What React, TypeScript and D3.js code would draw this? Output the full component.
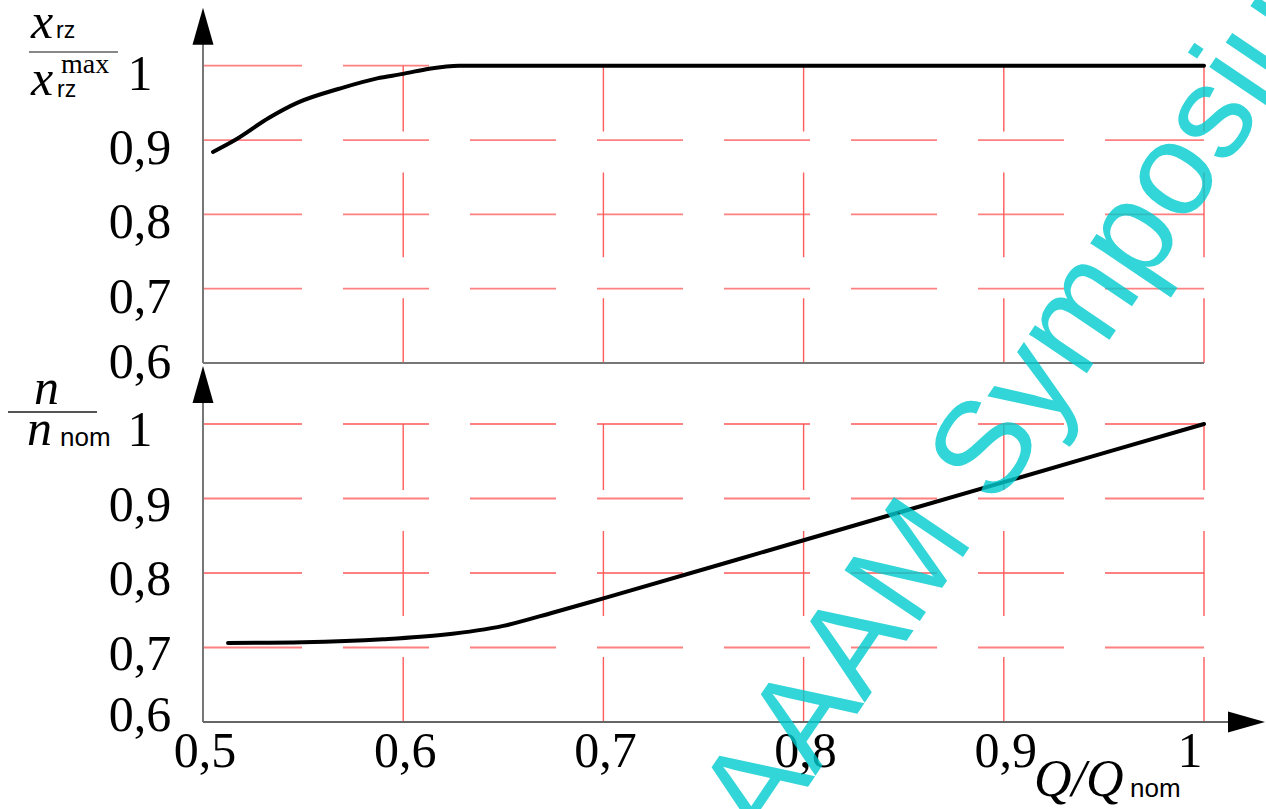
import React from "react";
import * as d3 from "d3";

// ---- data ----
const X_TICKS = [0.5, 0.6, 0.7, 0.8, 0.9, 1];
const X_TICK_LABELS = ["0,5", "0,6", "0,7", "0,8", "0,9", "1"];
const Y_TICKS = [0.6, 0.7, 0.8, 0.9, 1];
const Y_TICK_LABELS = ["0,6", "0,7", "0,8", "0,9", "1"];

// x_rz / x_rz^max vs Q/Q_nom
const XRZ_Q = [0.505, 0.516, 0.533, 0.547, 0.568, 0.587, 0.6, 0.613, 0.628, 1.0];
const XRZ_VAL = [0.884, 0.9, 0.93, 0.95, 0.969, 0.983, 0.989, 0.996, 1.0, 1.0];

// n / n_nom vs Q/Q_nom
const N_Q = [0.5125, 0.55, 0.59, 0.62, 0.65, 0.675, 0.7, 0.8, 0.9, 1.0];
const N_VAL = [0.706, 0.707, 0.711, 0.717, 0.729, 0.747, 0.766, 0.844, 0.922, 1.0];

const WATERMARK = "AAAM Symposium";

const W = 1266;
const H = 809;
const SERIF = "Liberation Serif";
const SANS = "Liberation Sans";

function T(props: { x: number; y: number; size: number; italic?: boolean; family?: string; anchor?: string; children: React.ReactNode }) {
  const { x, y, size, italic, family, anchor, children } = props;
  return (
    <text
      x={x}
      y={y}
      fontSize={size}
      fontFamily={family || SERIF}
      fontStyle={italic ? "italic" : "normal"}
      textAnchor={anchor || "start"}
      fill="#000"
    >
      {children}
    </text>
  );
}

export default function App() {
  const x = d3.scaleLinear().domain([0.5, 1]).range([203, 1204]);
  const yTop = d3.scaleLinear().domain([0.6, 1]).range([363, 65.7]);
  const yBot = d3.scaleLinear().domain([0.6, 1]).range([722, 424]);

  const gw = x(1) - x(0.5);
  const hDash = [0.0989, 0.041, 0.0859, 0.041, 0.0859, 0.041, 0.0859, 0.041, 0.0859, 0.041, 0.0859, 0.041, 0.0859, 0.041, 0.0989]
    .map((f) => (f * gw).toFixed(1))
    .join(" ");

  const topData = XRZ_Q.map((q, i) => [q, XRZ_VAL[i]] as [number, number]);
  const botData = N_Q.map((q, i) => [q, N_VAL[i]] as [number, number]);

  const panel = (y: d3.ScaleLinear<number, number>, key: string, data: [number, number][], lowOffset: number, offset: number) => {
    const ph = y(0.6) - y(1);
    const vDash = [0.2215, 0.1376, 0.2852, 0.1376, 0.2181].map((f) => (f * ph).toFixed(1)).join(" ");
    const line = d3
      .line<[number, number]>()
      .x((d) => x(d[0]))
      .y((d) => y(d[1]))
      .curve(d3.curveMonotoneX);
    const y0 = y(0.6);
    const yTopEdge = y(1);
    return (
      <g key={key}>
        {Y_TICKS.filter((t) => t > 0.6).map((t) => (
          <line key={"h" + t} x1={x(0.5)} x2={x(1)} y1={y(t)} y2={y(t)} stroke="#ff8080" strokeWidth={1.8} strokeDasharray={hDash} />
        ))}
        {X_TICKS.filter((t) => t > 0.5).map((t) => (
          <line key={"v" + t} x1={x(t)} x2={x(t)} y1={yTopEdge} y2={y0} stroke="#ff5c5c" strokeWidth={1.4} strokeDasharray={vDash} />
        ))}
        <line x1={x(0.5)} x2={x(0.5)} y1={y0} y2={yTopEdge - 30} stroke="#777" strokeWidth={2} />
        <path d={`M${x(0.5)},${yTopEdge - 58} L${x(0.5) - 10.5},${yTopEdge - 21} L${x(0.5) + 10.5},${yTopEdge - 21} Z`} fill="#000" />
        {Y_TICKS.map((t, i) => (
          <T key={"yl" + t} x={140} y={y(t) + (t === 0.6 ? lowOffset : offset)} size={50} anchor="middle">
            {Y_TICK_LABELS[i]}
          </T>
        ))}
        <path d={line(data) || ""} fill="none" stroke="#000" strokeWidth={4} strokeLinejoin="round" strokeLinecap="round" />
      </g>
    );
  };

  return (
    <svg width={W} height={H} style={{ position: "absolute", left: 0, top: 0, display: "block", background: "#fff" }}>
      <rect x={0} y={0} width={W} height={H} fill="#fff" />
      {panel(yTop, "top", topData, 15, 24)}
      <line x1={x(0.5)} x2={x(1)} y1={yTop(0.6)} y2={yTop(0.6)} stroke="#777" strokeWidth={2} />
      {panel(yBot, "bot", botData, 9, 22)}
      <line x1={x(0.5)} x2={1232} y1={yBot(0.6)} y2={yBot(0.6)} stroke="#666" strokeWidth={2} />
      <path d={`M1265,${yBot(0.6)} L1228,${yBot(0.6) - 10.5} L1228,${yBot(0.6) + 10.5} Z`} fill="#000" />
      {X_TICKS.map((t, i) => (
        <T key={"xl" + t} x={x(t) + (t === 1 ? -14 : 2)} y={767} size={50} anchor="middle">
          {X_TICK_LABELS[i]}
        </T>
      ))}
      <T x={1034} y={796} size={52} italic>Q/Q</T>
      <T x={1130} y={797} size={26} family={SANS}>nom</T>

      <T x={31} y={38} size={50} italic>x</T>
      <T x={56} y={38} size={23} family={SANS}>rz</T>
      <line x1={29} x2={118} y1={52} y2={52} stroke="#888" strokeWidth={2} />
      <T x={31} y={95} size={50} italic>x</T>
      <T x={57} y={97} size={23} family={SANS}>rz</T>
      <T x={61} y={73} size={28}>max</T>

      <T x={34} y={404} size={50} italic>n</T>
      <line x1={8} x2={97} y1={412} y2={412} stroke="#555" strokeWidth={2} />
      <T x={27} y={445} size={50} italic>n</T>
      <T x={60} y={446} size={26} family={SANS}>nom</T>

      <text
        transform="translate(766,849) rotate(-56)"
        fontSize={132}
        fontFamily={SANS}
        fill="rgb(0,204,207)"
        opacity={0.8}
      >
        {WATERMARK}
      </text>
    </svg>
  );
}
